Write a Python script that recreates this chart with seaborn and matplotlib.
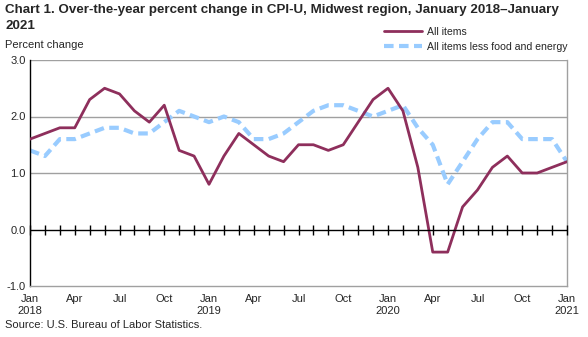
import matplotlib
matplotlib.use("Agg")
import matplotlib.pyplot as plt
import seaborn as sns
import pandas as pd
import numpy as np

months = list(range(37))  # Jan 2018 .. Jan 2021
all_items = [1.6, 1.7, 1.8, 1.8, 2.3, 2.5, 2.4, 2.1, 1.9, 2.2, 1.4, 1.3,
             0.8, 1.3, 1.7, 1.5, 1.3, 1.2, 1.5, 1.5, 1.4, 1.5, 1.9, 2.3,
             2.5, 2.1, 1.1, -0.4, -0.4, 0.4, 0.7, 1.1, 1.3, 1.0, 1.0, 1.1,
             1.2]
core = [1.4, 1.3, 1.6, 1.6, 1.7, 1.8, 1.8, 1.7, 1.7, 1.9, 2.1, 2.0,
        1.9, 2.0, 1.9, 1.6, 1.6, 1.7, 1.9, 2.1, 2.2, 2.2, 2.1, 2.0,
        2.1, 2.2, 1.8, 1.5, 0.8, 1.2, 1.6, 1.9, 1.9, 1.6, 1.6, 1.6,
        1.2]
tick_pos = list(range(0, 37, 3))
tick_labels = ["Jan\n2018", "Apr", "Jul", "Oct", "Jan\n2019", "Apr", "Jul", "Oct",
               "Jan\n2020", "Apr", "Jul", "Oct", "Jan\n2021"]
y_ticks = [-1.0, 0.0, 1.0, 2.0, 3.0]

sns.set_style("white")
plt.rcParams['font.family'] = ['Liberation Sans', 'DejaVu Sans']

df = pd.DataFrame({"month": months, "All items": all_items,
                   "All items less food and energy": core})

fig = plt.figure(figsize=(5.88, 3.37), dpi=100)
ax = fig.add_axes([30/588, 1-286/337, (567-30)/588, (286-60)/337])

red = "#8E2F5C"
blue = "#99CCFF"

for y in [1.0, 2.0, 3.0]:
    ax.axhline(y, color="#A0A0A0", lw=1, zorder=0)

sns.lineplot(data=df, x="month", y="All items", ax=ax, color=red, lw=2,
             label="All items", zorder=3)
sns.lineplot(data=df, x="month", y="All items less food and energy", ax=ax,
             color=blue, lw=3, dashes=False, linestyle=(0, (2.3, 1.3)),
             label="All items less food and energy", zorder=2)

ax.axhline(0, color="black", lw=1, zorder=4)
ax.plot(months, [0]*len(months), ls="none", marker="|", color="black",
        ms=7, mew=1, zorder=4, clip_on=False)

ax.set_xlim(0, 36)
ax.set_ylim(-1.0, 3.0)
ax.set_yticks(y_ticks)
ax.set_yticklabels([f"{v:.1f}" for v in y_ticks], fontsize=8)
ax.set_xticks(tick_pos)
ax.set_xticklabels(tick_labels, fontsize=8, linespacing=1.2)
ax.tick_params(axis="y", length=0, pad=3)
ax.tick_params(axis="x", length=0, pad=6)
ax.set_xlabel("")
ax.set_ylabel("")

ax.spines["left"].set_color("black")
ax.spines["left"].set_linewidth(1)
for s in ["bottom", "right"]:
    ax.spines[s].set_color("#A0A0A0")
    ax.spines[s].set_linewidth(1)
ax.spines["top"].set_visible(False)

handles, labels = ax.get_legend_handles_labels()
ax.get_legend().remove()
fig.legend(handles, labels, loc="upper left", bbox_to_anchor=(384/588, 1-27/337),
           frameon=False, fontsize=7.6, handlelength=3.6, handletextpad=0.45,
           borderpad=0, borderaxespad=0, labelspacing=0.45)

fig.text(5/588, 1-4/337,
         "Chart 1. Over-the-year percent change in CPI-U, Midwest region, January 2018\u2013January",
         fontsize=9.6, fontweight="bold", va="top", ha="left")
fig.text(5/588, 1-20/337, "2021", fontsize=9.6, fontweight="bold", va="top", ha="left")
fig.text(5/588, 1-45/337, "Percent change", fontsize=8, va="center", ha="left")
fig.text(5/588, 1-325/337, "Source: U.S. Bureau of Labor Statistics.", fontsize=8,
         va="center", ha="left")

fig.savefig("out.png", dpi=100)
